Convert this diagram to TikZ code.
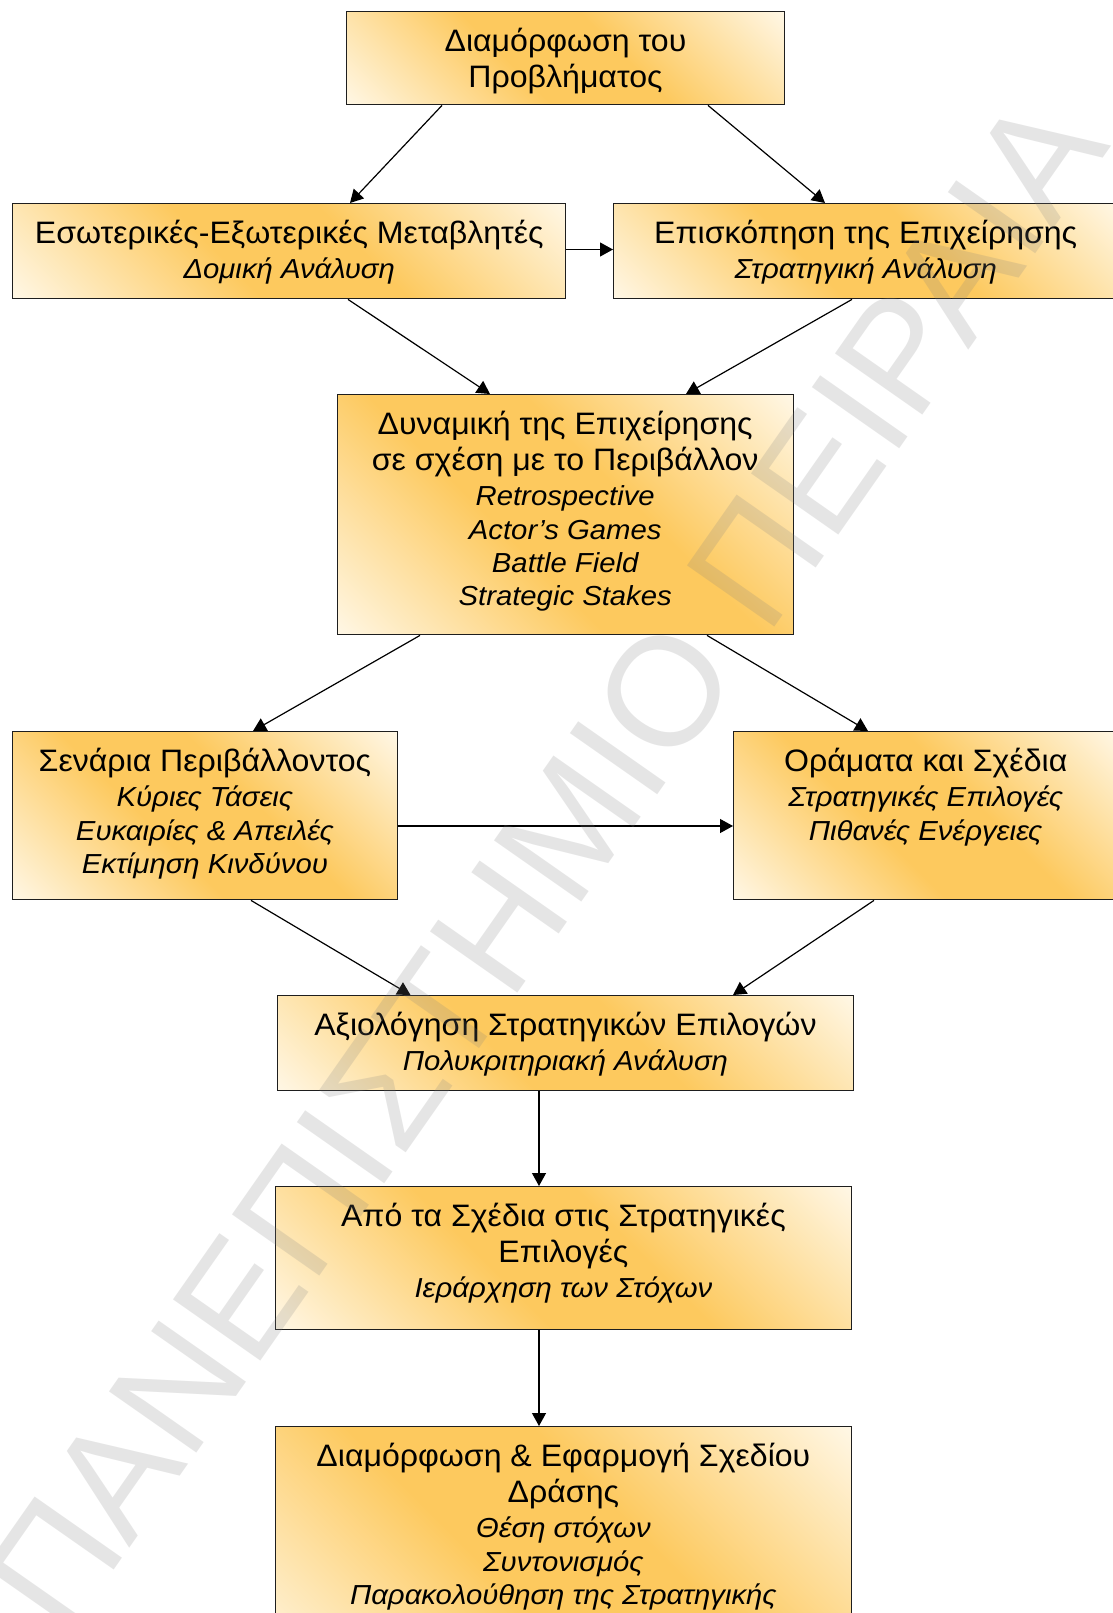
\documentclass[tikz,border=0pt]{standalone}
\usepackage{fontspec}
\setmainfont{Liberation Sans}
\newfontfamily\headfont[FakeStretch=1.035]{Liberation Sans}
\newfontfamily\subfont[FakeStretch=1.065]{Liberation Sans Italic}
\usetikzlibrary{arrows.meta,calc}

\definecolor{boxorange}{RGB}{253,201,94}
\definecolor{boxcream}{RGB}{255,248,232}
\definecolor{boxline}{RGB}{30,30,30}

% diagonal fill of the boxes: cream corners, orange band along the other diagonal
\pgfdeclareverticalshading{boxgrad}{100bp}{color(0bp)=(boxcream); color(14bp)=(boxcream); color(42bp)=(boxorange); color(58bp)=(boxorange); color(86bp)=(boxcream); color(100bp)=(boxcream)}

% one line of heading text / one line of italic subtext
\newcommand\hdln[1]{{\headfont\fontsize{31pt}{36pt}\selectfont\strut\mbox{#1}\par}}
\newcommand\itln[1]{{\subfont\fontsize{27.5pt}{33.2pt}\selectfont\strut\mbox{#1}\par}}
% box body: fixed width and height, text set from the top
\newcommand\boxbody[3]{\begin{minipage}[t][#2][t]{#1}\centering\vspace*{15pt}#3\end{minipage}}

\tikzset{
  stage/.style={draw=boxline, line width=1.4pt, shading=boxgrad, shading angle=-45,
                inner sep=0pt, anchor=north west},
  arr/.style={-{Triangle[length=13pt,width=14pt]}, line width=1.2pt, black},
}

\begin{document}
\begin{tikzpicture}[x=1pt,y=-1pt]
\fill[white] (0,0) rectangle (1112,1613);
\useasboundingbox (0,0) rectangle (1112,1613);

\node[stage] (b1) at (345.6,11) {\boxbody{438.4pt}{93pt}{%
  \hdln{Διαμόρφωση του}\hdln{Προβλήματος}}};
\node[stage] (b2) at (12,203) {\boxbody{553pt}{95pt}{%
  \hdln{Εσωτερικές-Εξωτερικές Μεταβλητές}\itln{Δομική Ανάλυση}}};
\node[stage] (b3) at (613,203) {\boxbody{504pt}{95pt}{%
  \hdln{Επισκόπηση της Επιχείρησης}\itln{Στρατηγική Ανάλυση}}};
\node[stage] (b4) at (336.5,394) {\boxbody{456pt}{240pt}{%
  \hdln{Δυναμική της Επιχείρησης}\hdln{σε σχέση με το Περιβάλλον}%
  \itln{Retrospective}\itln{Actor’s Games}\itln{Battle Field}\itln{Strategic Stakes}}};
\node[stage] (b5) at (11.7,731) {\boxbody{385pt}{168pt}{%
  \hdln{Σενάρια Περιβάλλοντος}\itln{Κύριες Τάσεις}\itln{Ευκαιρίες \& Απειλές}\itln{Εκτίμηση Κινδύνου}}};
\node[stage] (b6) at (733,731) {\boxbody{384pt}{168pt}{%
  \hdln{Οράματα και Σχέδια}\itln{Στρατηγικές Επιλογές}\itln{Πιθανές Ενέργειες}}};
\node[stage] (b7) at (276.5,995) {\boxbody{576.5pt}{95pt}{%
  \hdln{Αξιολόγηση Στρατηγικών Επιλογών}\itln{Πολυκριτηριακή Ανάλυση}}};
\node[stage] (b8) at (274.7,1186) {\boxbody{576pt}{143pt}{%
  \hdln{Από τα Σχέδια στις Στρατηγικές}\hdln{Επιλογές}\itln{Ιεράρχηση των Στόχων}}};
\node[stage] (b9) at (274.7,1426) {\boxbody{576pt}{250pt}{%
  \hdln{Διαμόρφωση \& Εφαρμογή Σχεδίου}\hdln{Δράσης}%
  \itln{Θέση στόχων}\itln{Συντονισμός}\itln{Παρακολούθηση της Στρατηγικής}}};

% connectors
\draw[arr] ([xshift=96.4pt]b1.south west) -- ([xshift=338pt]b2.north west);
\draw[arr] ([xshift=362.4pt]b1.south west) -- ([xshift=212pt]b3.north west);
\draw[arr] ([yshift=-46.5pt]b2.north east) -- ([yshift=-46.5pt]b3.north west);
\draw[arr] ([xshift=336pt]b2.south west) -- ([xshift=153.5pt]b4.north west);
\draw[arr] ([xshift=239pt]b3.south west) -- ([xshift=349.5pt]b4.north west);
\draw[arr] ([xshift=83.5pt]b4.south west) -- ([xshift=241.3pt]b5.north west);
\draw[arr] ([xshift=370.5pt]b4.south west) -- ([xshift=135pt]b6.north west);
\draw[arr] ([yshift=-95pt]b5.north east) -- ([yshift=-95pt]b6.north west);
\draw[arr] ([xshift=239.3pt]b5.south west) -- ([xshift=134pt]b7.north west);
\draw[arr] ([xshift=141pt]b6.south west) -- ([xshift=456.5pt]b7.north west);
\draw[arr] ([xshift=262.5pt]b7.south west) -- ([xshift=264.3pt]b8.north west);
\draw[arr] ([xshift=264.3pt]b8.south west) -- ([xshift=264.3pt]b9.north west);

% watermark across the sheet
\node[rotate=55, inner sep=0pt, text=black!50, text opacity=0.2] (mark) at (545,862)
  {\fontsize{155pt}{160pt}\selectfont ΠΑΝΕΠΙΣΤΗΜΙΟ ΠΕΙΡΑΙΑ};
\end{tikzpicture}
\end{document}
